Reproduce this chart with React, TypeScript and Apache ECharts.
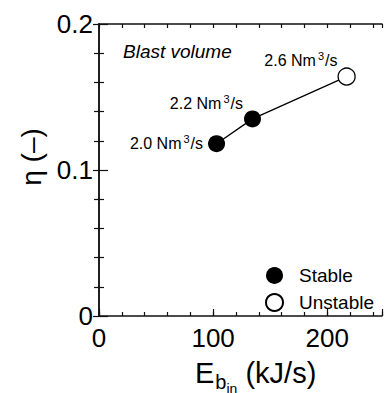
import React, { useEffect, useRef } from "react";
import * as echarts from "echarts";

// ---- data ----
const volumeLabels = ["2.0", "2.2", "2.6"]; // blast volume, Nm3/s
const energyIn = [103, 134.5, 217]; // E_b_in (kJ/s)
const eta = [0.118, 0.135, 0.164]; // η (-)
const stability = ["Stable", "Stable", "Unstable"];
const xTickLabels = [0, 100, 200];
const yTickLabels = [0, 0.1, 0.2];

// label placement styles (not data)
const labelOffsets = [
  [0, 0],
  [0, -15],
  [0, -16],
];
const labelDistances = [5, 1, 0];

const FONT = "'Liberation Sans', Arial, Helvetica, sans-serif";

export default function App() {
  const ref = useRef<HTMLDivElement>(null);
  useEffect(() => {
    if (!ref.current) return;
    const chart = echarts.init(ref.current, null, { renderer: "svg" });

    const mkPoint = (i: number) => ({
      value: [energyIn[i], eta[i]],
      label: {
        show: true,
        position: "left",
        distance: labelDistances[i],
        offset: labelOffsets[i],
        formatter: `${volumeLabels[i]} Nm{sup|3}/s`,
        color: "#000",
        fontFamily: FONT,
        fontSize: 16,
        rich: {
          sup: {
            fontSize: 11,
            fontFamily: FONT,
            color: "#000",
            verticalAlign: "bottom",
            padding: [0, 1, 9, 2],
          },
        },
      },
    });

    const idx = (s: string) =>
      stability.map((v, i) => (v === s ? i : -1)).filter((i) => i >= 0);

    const axisLine = { show: true, lineStyle: { color: "#111", width: 1.5 } };
    const xMax = 248;

    chart.setOption({
      animation: false,
      backgroundColor: "#fff",
      grid: { left: 99, top: 24, right: -4, bottom: 77, containLabel: false },
      xAxis: [
        {
          type: "value",
          position: "bottom",
          min: 0,
          max: xMax,
          interval: 100,
          axisLine,
          axisTick: { show: true, inside: true, length: 7, lineStyle: { color: "#111", width: 1.2 } },
          axisLabel: {
            show: true,
            margin: 9,
            fontSize: 26,
            fontFamily: FONT,
            color: "#000",
            formatter: (v: number) => (xTickLabels.includes(v) ? String(v) : ""),
          },
          splitLine: { show: false },
        },
        {
          type: "value",
          position: "bottom",
          min: 0,
          max: xMax,
          interval: 20,
          axisLine: { show: false },
          axisTick: { show: true, inside: true, length: 4, lineStyle: { color: "#111", width: 1.2 } },
          axisLabel: { show: false },
          splitLine: { show: false },
        },
        {
          type: "value",
          position: "top",
          min: 0,
          max: xMax,
          interval: 20,
          axisLine,
          axisTick: { show: true, inside: true, length: 4, lineStyle: { color: "#111", width: 1.2 } },
          axisLabel: { show: false },
          splitLine: { show: false },
        },
      ],
      yAxis: [
        {
          type: "value",
          position: "left",
          min: 0,
          max: 0.2,
          interval: 0.1,
          name: "η (–)",
          nameLocation: "middle",
          nameRotate: 90,
          nameGap: 45,
          nameTextStyle: {
            fontSize: 28,
            fontFamily: FONT,
            color: "#000",
            padding: [0, 0, 0, 26],
          },
          axisLine,
          axisTick: { show: true, inside: true, length: 9, lineStyle: { color: "#111", width: 1.2 } },
          minorTick: { show: true, splitNumber: 5, length: 5, lineStyle: { color: "#111", width: 1.2 } },
          axisLabel: {
            show: true,
            margin: 6,
            fontSize: 26,
            fontFamily: FONT,
            color: "#000",
            formatter: (v: number) => {
              const hit = yTickLabels.find((t) => Math.abs(t - v) < 1e-9);
              return hit === undefined ? "" : String(hit);
            },
          },
          splitLine: { show: false },
          minorSplitLine: { show: false },
        },
        {
          type: "value",
          position: "right",
          min: 0,
          max: 0.2,
          interval: 0.1,
          axisLine,
          axisTick: { show: true, inside: true, length: 6, lineStyle: { color: "#111", width: 1.2 } },
          minorTick: { show: true, splitNumber: 5, length: 5, lineStyle: { color: "#111", width: 1.2 } },
          axisLabel: { show: false },
          splitLine: { show: false },
          minorSplitLine: { show: false },
        },
      ],
      legend: {
        orient: "vertical",
        left: 260,
        top: 261,
        itemWidth: 17,
        itemHeight: 17,
        itemGap: 8,
        data: ["Stable", "Unstable"],
        textStyle: { fontSize: 19, fontFamily: FONT, color: "#000", padding: [0, 0, 0, 11] },
      },
      series: [
        {
          name: "path",
          type: "line",
          data: energyIn.map((x, i) => [x, eta[i]]),
          symbol: "none",
          lineStyle: { color: "#000", width: 1.3 },
          z: 1,
          silent: true,
        },
        {
          name: "Stable",
          type: "scatter",
          symbol: "circle",
          symbolSize: 17,
          itemStyle: { color: "#000", opacity: 1 },
          data: idx("Stable").map(mkPoint),
          z: 3,
        },
        {
          name: "Unstable",
          type: "scatter",
          symbol: "circle",
          symbolSize: 17,
          itemStyle: { color: "#fff", borderColor: "#000", borderWidth: 1.3, opacity: 1 },
          data: idx("Unstable").map(mkPoint),
          z: 3,
        },
      ],
      graphic: [
        {
          type: "text",
          left: 123,
          top: 42,
          style: {
            text: "Blast volume",
            font: `italic 19px ${FONT}`,
            fill: "#000",
          },
        },
        {
          type: "text",
          x: 195,
          y: 358,
          style: {
            text: "{e|E}{b|b}{i|in}{e| (kJ/s)}",
            fill: "#000",
            rich: {
              e: { fontSize: 29, fontFamily: FONT, fill: "#000", verticalAlign: "top" },
              b: { fontSize: 20, fontFamily: FONT, fill: "#000", verticalAlign: "top", padding: [14, 0, 0, 1] },
              i: { fontSize: 14, fontFamily: FONT, fill: "#000", verticalAlign: "top", padding: [24, 0, 0, 0] },
            },
          },
        },
      ],
    });
    return () => chart.dispose();
  }, []);
  return (
    <div
      ref={ref}
      style={{ position: "fixed", left: 0, top: 0, width: 385, height: 393, background: "#fff" }}
    />
  );
}
